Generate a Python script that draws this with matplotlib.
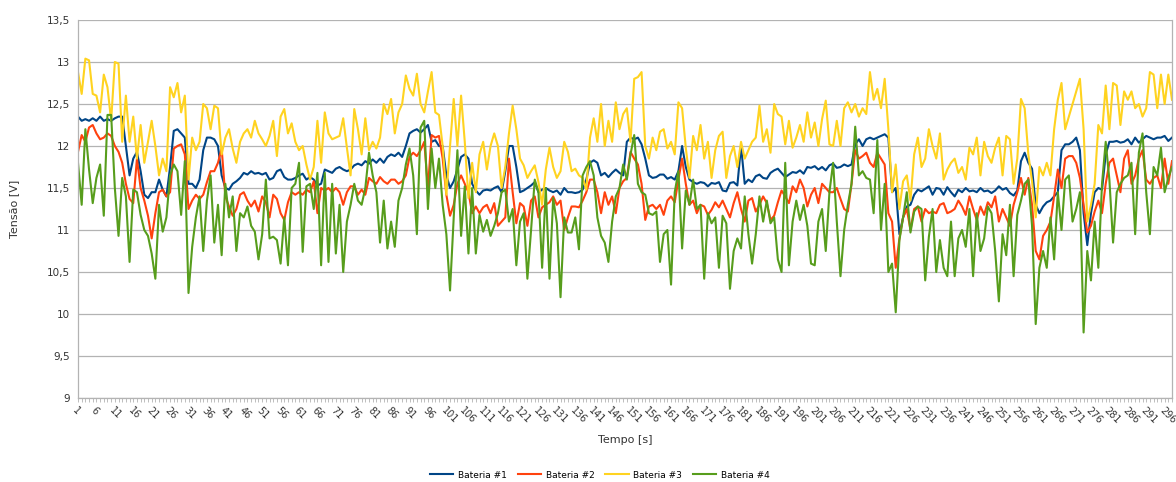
import matplotlib
matplotlib.use("Agg")
import matplotlib.pyplot as plt
from matplotlib.ticker import FixedLocator, FuncFormatter
import numpy as np

# battery voltages [V], one sample per second, 298 samples
bat1 = [
    12.35, 12.3, 12.32, 12.3, 12.33, 12.3, 12.35, 12.3, 12.32, 12.3,
    12.33, 12.35, 12.35, 12.0, 11.65, 11.85, 11.93, 11.7, 11.42, 11.38,
    11.45, 11.45, 11.6, 11.48, 11.4, 11.75, 12.18, 12.2, 12.15, 12.1,
    11.55, 11.55, 11.5, 11.6, 11.95, 12.1, 12.1, 12.08, 12.0, 11.65,
    11.5, 11.48, 11.55, 11.58, 11.62, 11.68, 11.66, 11.7, 11.67, 11.68,
    11.66, 11.68, 11.6, 11.62, 11.7, 11.72, 11.63, 11.6, 11.6, 11.62,
    11.65, 11.67, 11.6, 11.63, 11.6, 11.53, 11.55, 11.72, 11.7, 11.68,
    11.73, 11.75, 11.72, 11.7, 11.72, 11.77, 11.79, 11.77, 11.82, 11.79,
    11.84, 11.8, 11.85, 11.8, 11.87, 11.9, 11.88, 11.92, 11.87, 12.0,
    12.15, 12.18, 12.2, 12.16, 12.2, 12.25, 12.05, 12.07, 12.0, 12.0,
    11.65, 11.5, 11.58, 11.72, 11.87, 11.9, 11.85, 11.55, 11.47, 11.42,
    11.47, 11.48, 11.47, 11.5, 11.52, 11.45, 11.7, 12.0, 12.0, 11.75,
    11.45, 11.47, 11.5, 11.53, 11.57, 11.45, 11.48, 11.5, 11.47, 11.45,
    11.47, 11.42, 11.5, 11.45, 11.45, 11.44, 11.45, 11.48, 11.6, 11.8,
    11.83, 11.8, 11.65, 11.68, 11.63, 11.68, 11.72, 11.68, 11.65, 12.05,
    12.1, 12.08, 12.1, 12.02, 11.85, 11.65, 11.62, 11.63, 11.66, 11.66,
    11.61, 11.63, 11.6, 11.7, 12.0, 11.75, 11.6, 11.57, 11.55, 11.57,
    11.56, 11.52, 11.56, 11.55, 11.57, 11.47, 11.46, 11.56, 11.57, 11.53,
    12.0, 11.55, 11.6, 11.57, 11.64, 11.66, 11.62, 11.61, 11.68, 11.71,
    11.73, 11.68, 11.63, 11.66, 11.69, 11.68, 11.71, 11.67, 11.75, 11.74,
    11.76, 11.72, 11.75, 11.71, 11.77, 11.79, 11.74, 11.75, 11.78, 11.76,
    11.78, 12.02, 12.08, 12.0, 12.08, 12.1, 12.08, 12.1, 12.12, 12.14,
    12.1, 11.45, 11.5, 10.95, 11.15, 11.28, 11.3, 11.42, 11.48, 11.46,
    11.49, 11.52, 11.42, 11.5, 11.49, 11.42, 11.51, 11.45, 11.4, 11.48,
    11.45, 11.5, 11.46, 11.47, 11.45, 11.5, 11.46, 11.47, 11.44, 11.47,
    11.52, 11.48, 11.5, 11.44, 11.41, 11.47, 11.82, 11.92, 11.8, 11.73,
    11.3, 11.2, 11.28, 11.33, 11.35, 11.4, 11.45, 11.95, 12.02, 12.02,
    12.05, 12.1, 11.95, 11.2, 10.82, 11.2, 11.45, 11.5, 11.48, 11.9,
    12.05, 12.05, 12.06, 12.04, 12.05, 12.08, 12.02, 12.1, 12.04, 12.08,
    12.12, 12.1, 12.08, 12.1, 12.1, 12.12, 12.06, 12.1,
]
bat2 = [
    11.93, 12.13, 12.05, 12.22, 12.25, 12.15, 12.08, 12.1, 12.15, 12.12,
    12.0, 11.93, 11.8, 11.55, 11.37, 11.32, 11.85, 11.5, 11.35, 11.17,
    10.9, 11.2, 11.45, 11.48, 11.4, 11.45, 11.97, 12.0, 12.02, 11.9,
    11.25, 11.35, 11.42, 11.37, 11.42, 11.57, 11.7, 11.7, 11.8, 11.97,
    11.4, 11.28, 11.17, 11.25, 11.42, 11.45, 11.35, 11.28, 11.35, 11.22,
    11.4, 11.33, 11.15, 11.42, 11.37, 11.2, 11.12, 11.33, 11.45, 11.42,
    11.45, 11.42, 11.48, 11.45, 11.58, 11.2, 11.5, 11.47, 11.5, 11.45,
    11.5, 11.45, 11.3, 11.45, 11.52, 11.52, 11.42, 11.48, 11.42, 11.62,
    11.58, 11.55, 11.63, 11.58, 11.55, 11.6, 11.6, 11.55, 11.58, 11.65,
    11.87, 11.92, 11.88, 11.95, 12.05, 11.5, 12.13, 12.1, 12.12, 11.85,
    11.42, 11.17, 11.3, 11.55, 11.65, 11.55, 11.45, 11.2, 11.28, 11.2,
    11.27, 11.3, 11.2, 11.32, 11.05, 11.1, 11.15, 11.85, 11.45, 11.08,
    11.32, 11.28, 11.05, 11.35, 11.4, 11.15, 11.27, 11.3, 11.33, 11.4,
    11.3, 11.35, 11.0, 11.15, 11.28, 11.28, 11.27, 11.35, 11.45, 11.6,
    11.6, 11.45, 11.2, 11.45, 11.3, 11.4, 11.2, 11.5, 11.58, 11.62,
    11.93, 11.85, 11.78, 11.55, 11.12, 11.28, 11.3, 11.25, 11.3, 11.18,
    11.35, 11.4, 11.33, 11.6, 11.85, 11.55, 11.3, 11.35, 11.2, 11.3,
    11.28, 11.18, 11.24, 11.33, 11.27, 11.35, 11.25, 11.15, 11.32, 11.45,
    11.25, 11.1, 11.35, 11.38, 11.22, 11.3, 11.4, 11.32, 11.12, 11.17,
    11.33, 11.47, 11.4, 11.32, 11.52, 11.45, 11.6, 11.5, 11.28, 11.42,
    11.5, 11.32, 11.55, 11.5, 11.45, 11.45, 11.5, 11.37, 11.25, 11.22,
    11.55, 11.95, 11.85, 11.88, 11.92, 11.8, 11.75, 11.92, 11.85, 11.78,
    11.2, 11.1, 10.55, 10.9, 11.15, 11.25, 11.0, 11.25, 11.28, 11.1,
    11.25, 11.2, 11.22, 11.2, 11.3, 11.32, 11.2, 11.22, 11.25, 11.35,
    11.28, 11.18, 11.4, 11.25, 11.12, 11.28, 11.18, 11.33, 11.27, 11.4,
    11.1, 11.25, 11.15, 11.05, 11.3, 11.45, 11.62, 11.42, 11.62, 11.3,
    10.75, 10.65, 10.93, 11.0, 11.1, 11.4, 11.72, 11.5, 11.85, 11.88,
    11.88, 11.8, 11.62, 11.3, 10.97, 11.05, 11.22, 11.35, 11.2, 11.55,
    11.8, 11.85, 11.65, 11.45, 11.85, 11.95, 11.55, 11.65, 11.85, 11.95,
    11.6, 11.55, 11.62, 11.65, 11.5, 11.85, 11.55, 11.82,
]
bat3 = [
    12.88, 12.62, 13.04, 13.02, 12.62, 12.6, 12.4, 12.85, 12.7, 12.3,
    13.0, 12.98, 12.05, 12.6, 12.05, 12.35, 11.85, 12.25, 11.8, 12.05,
    12.3, 12.0, 11.65, 11.85, 11.7, 12.7, 12.58, 12.75, 12.4, 12.6,
    11.6, 12.1, 11.95, 12.05, 12.5, 12.45, 12.2, 12.48, 12.45, 11.9,
    12.1, 12.2, 11.97, 11.8, 12.05, 12.15, 12.2, 12.1, 12.3, 12.15,
    12.08, 12.0, 12.12, 12.3, 11.88, 12.35, 12.44, 12.15, 12.27, 12.05,
    11.95, 12.0, 11.78, 11.6, 11.75, 12.3, 11.8, 12.4, 12.15, 12.08,
    12.1, 12.12, 12.33, 11.98, 11.65, 12.44, 12.2, 11.9, 12.33, 11.95,
    12.05, 11.97, 12.1, 12.5, 12.38, 12.56, 12.15, 12.4, 12.5, 12.84,
    12.68, 12.6, 12.86, 12.5, 12.4, 12.65, 12.88, 12.4, 12.37, 12.0,
    11.42, 12.0, 12.56, 12.0, 12.6, 12.05, 11.38, 11.8, 11.45, 11.9,
    12.05, 11.72, 12.0, 12.15, 12.0, 11.5, 11.75, 12.15, 12.48, 12.2,
    11.85, 11.77, 11.62, 11.7, 11.77, 11.57, 11.3, 11.72, 11.98, 11.75,
    11.62, 11.7, 12.05, 11.93, 11.7, 11.73, 11.65, 11.62, 11.48, 12.1,
    12.33, 12.05, 12.5, 12.0, 12.3, 12.05, 12.52, 12.2, 12.38, 12.45,
    12.05, 12.8, 12.82, 12.88, 12.0, 11.85, 12.1, 11.95, 12.17, 12.2,
    11.97, 12.05, 11.9, 12.52, 12.45, 11.98, 11.62, 12.12, 11.95, 12.25,
    11.85, 12.05, 11.62, 11.95, 12.12, 12.17, 11.62, 11.88, 12.0, 11.75,
    12.05, 11.85, 11.95, 12.05, 12.1, 12.48, 12.05, 12.2, 11.92, 12.5,
    12.38, 12.35, 12.02, 12.3, 11.98, 12.1, 12.25, 12.05, 12.4, 12.1,
    12.28, 12.0, 12.32, 12.54, 12.02, 12.0, 12.3, 12.0, 12.45, 12.52,
    12.4, 12.5, 12.35, 12.45, 12.38, 12.88, 12.55, 12.68, 12.45, 12.8,
    12.2, 11.45, 11.78, 11.25, 11.58, 11.65, 11.35, 11.9, 12.1, 11.75,
    11.85, 12.2, 12.0, 11.85, 12.15, 11.6, 11.72, 11.8, 11.85, 11.68,
    11.75, 11.6, 11.98, 11.9, 12.1, 11.65, 12.05, 11.88, 11.8, 11.98,
    12.1, 11.65, 12.12, 12.08, 11.55, 11.85, 12.56, 12.45, 11.9, 11.58,
    11.15, 11.75, 11.65, 11.8, 11.65, 12.2, 12.55, 12.75, 12.2, 12.35,
    12.5, 12.65, 12.8, 12.2, 11.1, 11.3, 11.55, 12.25, 12.15, 12.72,
    12.2, 12.75, 12.72, 12.25, 12.65, 12.55, 12.65, 12.45, 12.5, 12.35,
    12.45, 12.88, 12.85, 12.45, 12.85, 12.5, 12.85, 12.55,
]
bat4 = [
    11.8, 11.3, 12.2, 11.72, 11.32, 11.62, 11.78, 11.17, 12.37, 12.37,
    11.5, 10.93, 11.62, 11.4, 10.62, 11.48, 11.45, 11.18, 11.0, 10.93,
    10.72, 10.42, 11.3, 10.98, 11.15, 11.65, 11.78, 11.7, 11.18, 11.82,
    10.25, 10.8, 11.15, 11.4, 10.75, 11.35, 11.65, 10.85, 11.3, 10.7,
    11.55, 11.15, 11.4, 10.75, 11.2, 11.15, 11.28, 11.05, 10.98, 10.65,
    10.95, 11.6, 10.9, 10.92, 10.88, 10.6, 11.15, 10.58, 11.5, 11.55,
    11.8, 10.74, 11.52, 11.55, 11.25, 11.68, 10.58, 11.68, 10.62, 11.55,
    10.72, 11.3, 10.5, 11.1, 11.3, 11.55, 11.35, 11.3, 11.5, 11.92,
    11.65, 11.45, 10.85, 11.35, 10.78, 11.1, 10.8, 11.35, 11.5, 11.78,
    11.97, 11.65, 10.95, 12.22, 12.3, 11.25, 11.97, 11.5, 11.85, 11.3,
    10.95, 10.28, 11.15, 11.95, 10.93, 11.52, 10.72, 11.5, 10.72, 11.18,
    10.98, 11.12, 10.93, 11.05, 11.2, 11.45, 11.48, 11.1, 11.25, 10.58,
    11.1, 11.2, 10.42, 11.0, 11.6, 11.45, 10.55, 11.5, 10.42, 11.38,
    11.08, 10.2, 11.15, 10.97, 10.97, 11.15, 10.77, 11.65, 11.75, 11.82,
    11.65, 11.15, 10.93, 10.85, 10.62, 11.1, 11.4, 11.5, 11.78, 11.6,
    11.9, 12.13, 11.55, 11.45, 11.42, 11.2, 11.18, 11.22, 10.62, 10.95,
    11.0, 10.35, 11.45, 11.7, 10.78, 11.47, 11.3, 11.6, 11.25, 11.3,
    10.42, 11.2, 11.08, 11.15, 10.55, 11.17, 11.08, 10.3, 10.75, 10.9,
    10.78, 11.4, 10.95, 10.6, 10.95, 11.4, 11.1, 11.35, 11.08, 11.15,
    10.65, 10.5, 11.8, 10.58, 11.1, 11.35, 11.12, 11.3, 11.05, 10.6,
    10.58, 11.1, 11.25, 10.75, 11.45, 11.8, 11.1, 10.45, 11.0, 11.3,
    11.55, 12.23, 11.65, 11.7, 11.62, 11.6, 11.2, 12.07, 11.0, 11.55,
    10.5, 10.6, 10.02, 10.88, 11.15, 11.45, 10.97, 11.22, 11.28, 11.25,
    10.4, 10.92, 11.25, 10.5, 10.88, 10.55, 10.45, 11.1, 10.45, 10.9,
    11.0, 10.8, 11.25, 10.45, 11.2, 10.75, 10.9, 11.28, 11.2, 10.75,
    10.15, 10.95, 10.7, 11.3, 10.45, 11.18, 11.35, 11.55, 11.6, 11.05,
    9.88, 10.55, 10.75, 10.55, 11.15, 10.65, 11.45, 11.0, 11.6, 11.65,
    11.1, 11.25, 11.45, 9.78, 10.75, 10.4, 11.1, 10.55, 11.55, 12.05,
    11.6, 10.85, 11.45, 11.55, 11.62, 11.65, 11.8, 10.95, 11.92, 12.15,
    11.45, 10.95, 11.75, 11.65, 11.98, 11.45, 11.62, 11.75,
]

series = [
    ("Bateria #1", bat1, "#004586"),
    ("Bateria #2", bat2, "#ff420e"),
    ("Bateria #3", bat3, "#ffd320"),
    ("Bateria #4", bat4, "#579d1c"),
]

t = np.arange(1, len(bat1) + 1)
for name, vals, _ in series:
    assert len(vals) == len(t), (name, len(vals))

fig = plt.figure(figsize=(11.76, 4.82), dpi=100)
ax = fig.add_axes([78 / 1176, 1 - 398 / 482, (1172 - 78) / 1176, (398 - 20) / 482])

for name, vals, color in series:
    ax.plot(t, vals, color=color, linewidth=1.5, label=name, solid_joinstyle="round")

ax.set_xlim(1, len(t))
ax.set_ylim(9, 13.5)
ax.set_yticks(np.arange(9, 13.51, 0.5))
ax.yaxis.set_major_formatter(FuncFormatter(lambda v, p: ("%g" % v).replace(".", ",")))
ax.grid(axis="y", color="#b3b3b3", linewidth=0.9)
ax.set_axisbelow(True)

# every second gets a tick mark, every fifth gets a label
ax.xaxis.set_major_locator(FixedLocator(t[::5]))
ax.xaxis.set_minor_locator(FixedLocator(t))
ax.tick_params(axis="x", which="both", length=3, width=0.6, color="#b3b3b3")
ax.tick_params(axis="x", which="major", labelsize=7, labelcolor="#333333", pad=2)
ax.tick_params(axis="y", length=0, labelsize=7.5, labelcolor="#333333", pad=6)
for lab in ax.get_xticklabels():
    lab.set_rotation(-45)
    lab.set_ha("left")
    lab.set_va("top")
    lab.set_rotation_mode("anchor")

for side in ["left", "bottom", "right"]:
    ax.spines[side].set_color("#b3b3b3")
    ax.spines[side].set_linewidth(0.9)
ax.spines["top"].set_visible(False)

ax.set_xlabel("Tempo [s]", fontsize=8, color="#333333", labelpad=7)
ax.set_ylabel("Tensão [V]", fontsize=8, color="#333333", labelpad=20)

fig.legend(loc="lower center", ncol=4, frameon=False, fontsize=6.5,
           bbox_to_anchor=(0.51, -0.012), handlelength=2.6, columnspacing=1.2,
           handletextpad=0.5)

fig.savefig("out.png", dpi=100, facecolor="white")
